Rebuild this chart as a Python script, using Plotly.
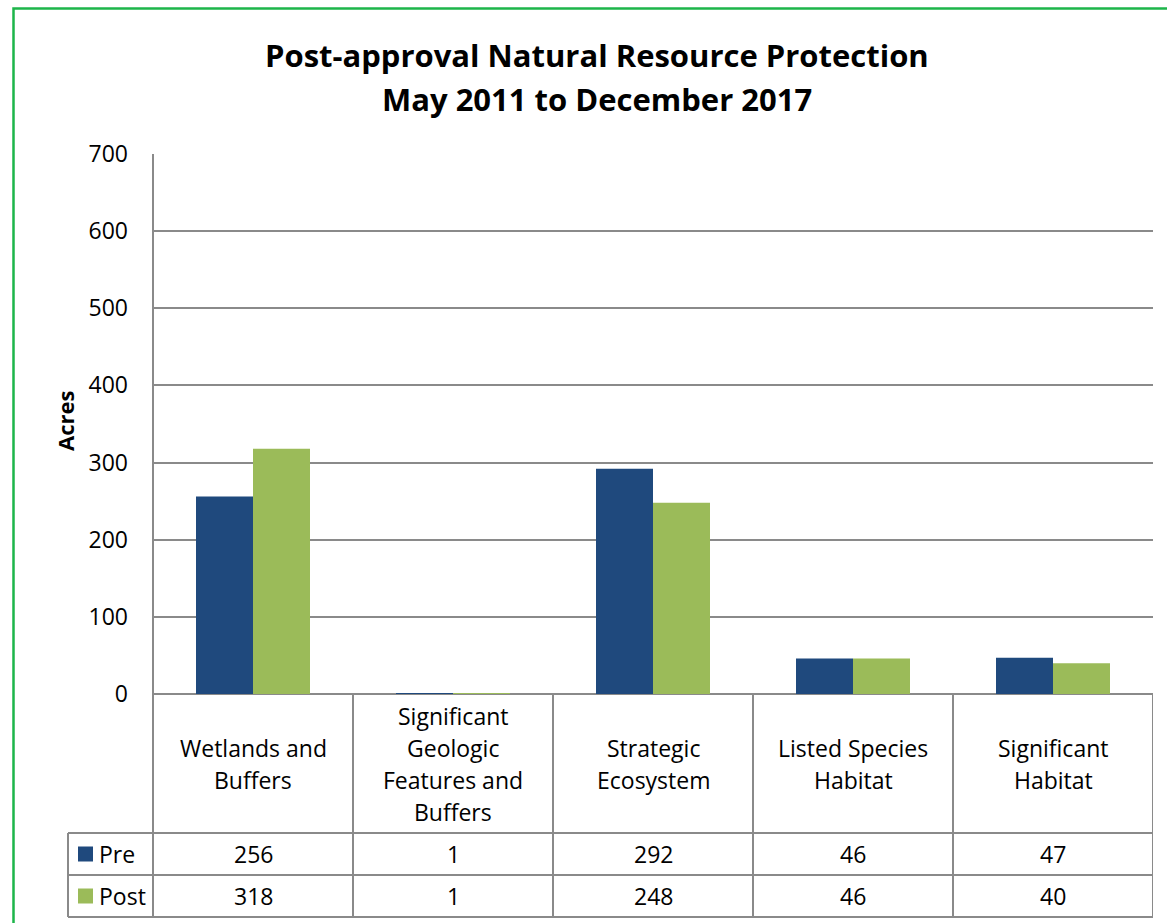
import plotly.graph_objects as go

categories = ["Wetlands and\nBuffers", "Significant\nGeologic\nFeatures and\nBuffers",
              "Strategic\nEcosystem", "Listed Species\nHabitat", "Significant\nHabitat"]
series_names = ["Pre", "Post"]
pre_values = [256, 1, 292, 46, 47]
post_values = [318, 1, 248, 46, 40]
y_ticks = [0, 100, 200, 300, 400, 500, 600, 700]
title_lines = ["Post-approval Natural Resource Protection", "May 2011 to December 2017"]
y_title = "Acres"

colors = ["#1F497D", "#9BBB59"]
FONT = "Open Sans"
GRID = "#8A8A8A"
FS = 23

W, H = 1167, 923
L, R, T, B = 153, 14, 154, 229
PW, PH = W - L - R, H - T - B

def px_x(px):
    return (px - L) / PW

def px_y(py):
    return (H - B - py) / PH

x_idx = list(range(len(categories)))

fig = go.Figure()
for name, vals, col in zip(series_names, [pre_values, post_values], colors):
    fig.add_trace(go.Bar(x=x_idx, y=vals, name=name, marker=dict(color=col, line=dict(width=0)),
                         showlegend=False, hoverinfo="y"))

shapes = []
annotations = []
line = dict(color=GRID, width=2)

# green outer border
shapes.append(dict(type="rect", xref="paper", yref="paper",
                   x0=px_x(13.5), x1=px_x(1200), y0=px_y(8.5), y1=px_y(960),
                   line=dict(color="#1DB54A", width=2.5), fillcolor="rgba(0,0,0,0)", layer="below"))

# left axis line through table
shapes.append(dict(type="line", xref="paper", yref="paper", x0=0, x1=0,
                   y0=px_y(154), y1=px_y(917), line=line))
# category boundaries in table
for i in range(len(categories)):
    xb = i + 0.5
    shapes.append(dict(type="line", xref="x", yref="paper", x0=xb, x1=xb,
                       y0=px_y(694), y1=px_y(917), line=line))
# table horizontal lines
for py in [833, 875, 917]:
    shapes.append(dict(type="line", xref="paper", yref="paper", x0=px_x(68), x1=1,
                       y0=px_y(py), y1=px_y(py), line=line))
shapes.append(dict(type="line", xref="paper", yref="paper", x0=px_x(68), x1=px_x(68),
                   y0=px_y(833), y1=px_y(917), line=line))

# category labels (per line)
LINE_H = 32
for i, cat in enumerate(categories):
    parts = cat.split("\n")
    n = len(parts)
    center = 764
    for k, p in enumerate(parts):
        py = center + (k - (n - 1) / 2) * LINE_H
        annotations.append(dict(x=i, xref="x", y=px_y(py), yref="paper", text=p, showarrow=False,
                                xanchor="center", yanchor="middle",
                                font=dict(family=FONT, size=FS, color="#000000")))

# table rows
row_centers = [854, 896]
for r, (name, vals, col) in enumerate(zip(series_names, [pre_values, post_values], colors)):
    cy = row_centers[r]
    shapes.append(dict(type="rect", xref="paper", yref="paper",
                       x0=px_x(78), x1=px_x(93), y0=px_y(cy - 7.5), y1=px_y(cy + 7.5),
                       fillcolor=col, line=dict(width=0)))
    annotations.append(dict(x=px_x(97), xref="paper", y=px_y(cy), yref="paper", text=name,
                            showarrow=False, xanchor="left", yanchor="middle",
                            font=dict(family=FONT, size=FS, color="#000000")))
    for i, v in enumerate(vals):
        annotations.append(dict(x=i, xref="x", y=px_y(cy), yref="paper", text=str(v),
                                showarrow=False, xanchor="center", yanchor="middle",
                                font=dict(family=FONT, size=FS, color="#000000")))

# title lines
for k, t in enumerate(title_lines):
    annotations.append(dict(x=px_x(597), xref="paper", y=px_y(55 + 44 * k), yref="paper", text="<b>%s</b>" % t,
                            showarrow=False, xanchor="center", yanchor="middle",
                            font=dict(family=FONT, size=31, color="#000000")))

# y axis title
annotations.append(dict(x=px_x(65), xref="paper", y=px_y(421), yref="paper", text="<b>%s</b>" % y_title,
                        showarrow=False, textangle=-90, xanchor="center", yanchor="middle",
                        font=dict(family=FONT, size=22, color="#000000")))

fig.update_layout(
    width=W, height=H,
    margin=dict(l=L, r=R, t=T, b=B, pad=0),
    paper_bgcolor="white", plot_bgcolor="white",
    barmode="group", bargap=0.43, bargroupgap=0,
    shapes=shapes, annotations=annotations,
    font=dict(family=FONT, size=FS, color="#000000"),
    xaxis=dict(range=[-0.5, 4.5], showticklabels=False, showgrid=False, zeroline=False,
               showline=False, ticks="", fixedrange=True),
    yaxis=dict(range=[0, 700], tickvals=y_ticks, showgrid=True, gridcolor=GRID, gridwidth=2,
               zeroline=True, zerolinecolor=GRID, zerolinewidth=2, showline=False,
               ticks="", ticklabelstandoff=24, tickfont=dict(family=FONT, size=FS, color="#000000"),
               fixedrange=True),
)

fig.write_html("out.html", config={"displayModeBar": False},
               post_script="document.body.style.margin='0';")
